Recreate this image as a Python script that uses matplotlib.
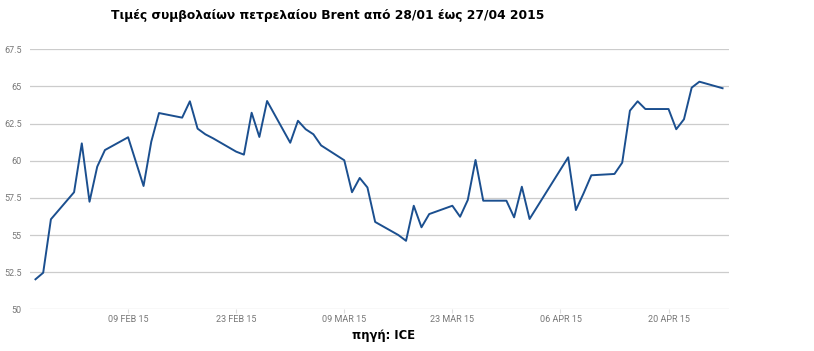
# Τιμές Brent, 28/01 - 27/04 2015
import matplotlib
matplotlib.use("Agg")
import matplotlib.pyplot as plt
import matplotlib.dates as mdates
import numpy as np
import pandas as pd

dates = pd.to_datetime([
    "2015-01-28", "2015-01-29", "2015-01-30",
    "2015-02-02", "2015-02-03", "2015-02-04", "2015-02-05", "2015-02-06",
    "2015-02-09", "2015-02-10", "2015-02-11", "2015-02-12", "2015-02-13",
    "2015-02-16", "2015-02-17", "2015-02-18", "2015-02-19", "2015-02-20",
    "2015-02-23", "2015-02-24", "2015-02-25", "2015-02-26", "2015-02-27",
    "2015-03-02", "2015-03-03", "2015-03-04", "2015-03-05", "2015-03-06",
    "2015-03-09", "2015-03-10", "2015-03-11", "2015-03-12", "2015-03-13",
    "2015-03-16", "2015-03-17", "2015-03-18", "2015-03-19", "2015-03-20",
    "2015-03-23", "2015-03-24", "2015-03-25", "2015-03-26", "2015-03-27",
    "2015-03-30", "2015-03-31", "2015-04-01", "2015-04-02",
    "2015-04-07", "2015-04-08", "2015-04-09", "2015-04-10",
    "2015-04-13", "2015-04-14", "2015-04-15", "2015-04-16", "2015-04-17",
    "2015-04-20", "2015-04-21", "2015-04-22", "2015-04-23", "2015-04-24",
    "2015-04-27",
])
prices = [
    52.02, 52.46, 56.06,
    57.88, 61.17, 57.24, 59.60, 60.72,
    61.58, 59.94, 58.30, 61.28, 63.21,
    62.90, 64.00, 62.16, 61.78, 61.51,
    60.61, 60.41, 63.23, 61.60, 64.02,
    61.21, 62.69, 62.12, 61.78, 61.03,
    60.03, 57.88, 58.84, 58.20, 55.88,
    55.00, 54.61, 56.97, 55.52, 56.41,
    56.97, 56.23, 57.36, 60.05, 57.31,
    57.31, 56.19, 58.25, 56.08,
    60.23, 56.68, 57.81, 59.02,
    59.11, 59.87, 63.37, 64.00, 63.48,
    63.48, 62.12, 62.79, 64.92, 65.32,
    64.88,
]
yticks = [50, 52.5, 55, 57.5, 60, 62.5, 65, 67.5]
xticks = pd.to_datetime(["2015-02-09", "2015-02-23", "2015-03-09",
                         "2015-03-23", "2015-04-06", "2015-04-20"])

title = "Τιμές συμβολαίων πετρελαίου Brent από 28/01 έως 27/04 2015"
source = "πηγή: ICE"

fig = plt.figure(figsize=(8.14, 3.51), dpi=100)
ax = fig.add_axes([30 / 814, 41.7 / 351, 699 / 814, 260 / 351])

ax.plot(dates, prices, color="#1b4f8f", lw=1.4, zorder=3)

ax.set_ylim(50, 67.5)
ax.set_yticks(yticks)
ax.set_yticklabels([f"{v:g}" for v in yticks])
ax.set_xlim(dates[0] - pd.Timedelta(hours=17), dates[-1] + pd.Timedelta(hours=20))
ax.set_xticks(xticks)
ax.set_xticklabels([d.strftime("%d %b %y").upper() for d in xticks])

ax.grid(axis="y", color="#cccccc", lw=0.9)
for s in ax.spines.values():
    s.set_visible(False)
ax.tick_params(axis="y", length=0, pad=6, labelsize=6.5, labelcolor="#777777")
ax.tick_params(axis="x", length=3, color="#dddddd", pad=1, labelsize=6.5, labelcolor="#777777")
for lab in ax.get_xticklabels() + ax.get_yticklabels():
    lab.set_family("Roboto")

fig.text(328 / 814, 1 - 16 / 351, title, ha="center", va="center",
         fontsize=8.8, fontweight="bold", family="DejaVu Sans")
fig.text(384 / 814, 1 - 336 / 351, source, ha="center", va="center",
         fontsize=8.4, fontweight="bold", family="DejaVu Sans")

fig.savefig("out.png", dpi=100)
